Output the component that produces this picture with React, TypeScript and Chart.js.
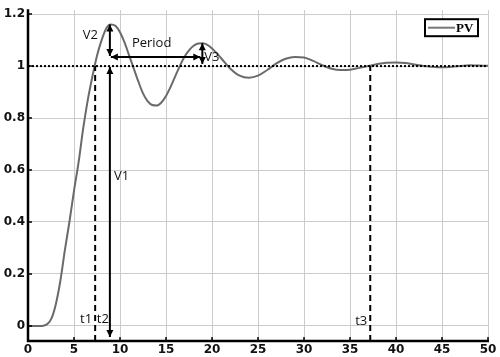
import React, { useEffect, useRef } from "react";
import { Chart, registerables } from "chart.js";

Chart.register(...registerables);

// Step response samples
const timeValues = [
  0, 1, 1.5, 2, 2.5, 3, 3.5, 4, 4.5, 5, 5.5, 6, 6.5, 7, 7.5, 8, 8.5, 9, 9.5, 10,
  10.5, 11, 11.5, 12, 12.5, 13, 13.5, 14, 14.5, 15, 15.5, 16, 16.5, 17, 17.5, 18,
  18.5, 19, 19.5, 20, 21, 22, 23, 24, 25, 26, 27, 28, 29, 30, 31, 32, 33, 34, 35,
  36, 37, 38, 39, 40, 41, 42, 43, 44, 45, 46, 47, 48, 49, 50,
];
const pvValues = [
  0, 0, 0, 0.005, 0.025, 0.08, 0.17, 0.29, 0.4, 0.52, 0.63, 0.76, 0.87, 0.96, 1.04,
  1.1, 1.145, 1.16, 1.155, 1.13, 1.09, 1.04, 0.99, 0.94, 0.895, 0.865, 0.85, 0.848,
  0.86, 0.885, 0.92, 0.96, 1.0, 1.035, 1.06, 1.078, 1.087, 1.088, 1.082, 1.068,
  1.03, 0.99, 0.963, 0.955, 0.963, 0.985, 1.01, 1.028, 1.035, 1.033, 1.02, 1.003,
  0.99, 0.985, 0.986, 0.993, 1.0, 1.008, 1.013, 1.014, 1.012, 1.006, 1.0, 0.997,
  0.995, 0.997, 1.0, 1.003, 1.002, 1.001,
];
const yTickValues = [0, 0.2, 0.4, 0.6, 0.8, 1, 1.2];
const xTickStep = 5;
const setpoint = 1;

// Annotation values
const t1 = 7.3;
const t2 = 8.9;
const t3 = 37.2;
const peak1 = 1.16;
const peak2Time = 18.95;
const peak2 = 1.088;
const periodLevel = 1.035;
const seriesName = "PV";

function arrowHead(ctx: CanvasRenderingContext2D, x: number, y: number, dx: number, dy: number) {
  const len = Math.hypot(dx, dy) || 1;
  const ux = dx / len;
  const uy = dy / len;
  const L = 7;
  const W = 3.5;
  ctx.beginPath();
  ctx.moveTo(x, y);
  ctx.lineTo(x - ux * L - uy * W, y - uy * L + ux * W);
  ctx.lineTo(x - ux * L + uy * W, y - uy * L - ux * W);
  ctx.closePath();
  ctx.fill();
}

function doubleArrow(ctx: CanvasRenderingContext2D, x1: number, y1: number, x2: number, y2: number) {
  ctx.beginPath();
  ctx.moveTo(x1, y1);
  ctx.lineTo(x2, y2);
  ctx.stroke();
  arrowHead(ctx, x2, y2, x2 - x1, y2 - y1);
  arrowHead(ctx, x1, y1, x1 - x2, y1 - y2);
}

const annotationPlugin = {
  id: "annotations",
  afterDatasetsDraw(chart: any) {
    const ctx: CanvasRenderingContext2D = chart.ctx;
    const xs = chart.scales.x;
    const ys = chart.scales.y;
    const area = chart.chartArea;
    const X = (v: number) => xs.getPixelForValue(v);
    const Y = (v: number) => ys.getPixelForValue(v);
    ctx.save();
    ctx.strokeStyle = "#000";
    ctx.fillStyle = "#000";

    // setpoint dotted line
    ctx.lineWidth = 2;
    ctx.setLineDash([2, 2]);
    ctx.beginPath();
    ctx.moveTo(area.left, Y(setpoint));
    ctx.lineTo(area.right, Y(setpoint));
    ctx.stroke();

    // dashed t1, t3
    ctx.setLineDash([6, 4]);
    for (const t of [t1, t3]) {
      ctx.beginPath();
      ctx.moveTo(X(t), area.bottom);
      ctx.lineTo(X(t), Y(setpoint));
      ctx.stroke();
    }
    ctx.setLineDash([]);

    // V1, V2, Period, V3 arrows
    ctx.lineWidth = 2;
    doubleArrow(ctx, X(t2), area.bottom - 4, X(t2), Y(setpoint) + 1);
    doubleArrow(ctx, X(t2), Y(peak1), X(t2), Y(periodLevel) - 1);
    doubleArrow(ctx, X(t2) + 1, Y(periodLevel), X(peak2Time) - 2, Y(periodLevel));
    doubleArrow(ctx, X(peak2Time), Y(peak2), X(peak2Time), Y(setpoint) - 2);

    // text labels
    ctx.font = "13px 'Open Sans', 'DejaVu Sans', sans-serif";
    ctx.fillStyle = "#111";
    ctx.textBaseline = "middle";
    ctx.textAlign = "right";
    ctx.fillText("V2", X(t2) - 12, Y(1.12));
    ctx.fillText("t1", X(t1) - 3, Y(0.025));
    ctx.fillText("t2", X(t2) - 1, Y(0.025));
    ctx.fillText("t3", X(t3) - 3, Y(0.018));
    ctx.textAlign = "left";
    ctx.fillText("Period", X(t2) + 22, Y(1.088));
    ctx.fillText("V1", X(t2) + 4, Y(0.577));
    ctx.fillText("V3", X(peak2Time) + 2, Y(periodLevel));

    // legend box
    const bx = area.right - 63;
    const by = area.top + 9;
    const bw = 53;
    const bh = 17;
    ctx.fillStyle = "#fff";
    ctx.fillRect(bx, by, bw, bh);
    ctx.lineWidth = 2;
    ctx.strokeStyle = "#000";
    ctx.strokeRect(bx, by, bw, bh);
    ctx.strokeStyle = "#777";
    ctx.beginPath();
    ctx.moveTo(bx + 3, by + bh / 2);
    ctx.lineTo(bx + 30, by + bh / 2);
    ctx.stroke();
    ctx.fillStyle = "#000";
    ctx.font = "bold 13px 'Liberation Serif', serif";
    ctx.textAlign = "left";
    ctx.fillText(seriesName, bx + 31, by + bh / 2 + 1);

    // axes lines and inner ticks
    ctx.strokeStyle = "#000";
    ctx.lineWidth = 2.5;
    ctx.beginPath();
    ctx.moveTo(area.left, area.top - 1);
    ctx.lineTo(area.left, area.bottom);
    ctx.lineTo(area.right + 1, area.bottom);
    ctx.stroke();
    ctx.lineWidth = 1.5;
    ctx.beginPath();
    for (const v of yTickValues) {
      ctx.moveTo(area.left, Y(v));
      ctx.lineTo(area.left + 4, Y(v));
    }
    for (let v = 0; v <= 50; v += xTickStep) {
      ctx.moveTo(X(v), area.bottom);
      ctx.lineTo(X(v), area.bottom - 4);
    }
    ctx.stroke();
    ctx.restore();
  },
};

export default function App() {
  const ref = useRef<HTMLCanvasElement | null>(null);
  useEffect(() => {
    if (!ref.current) return;
    const chart = new Chart(ref.current, {
      type: "line",
      data: {
        datasets: [
          {
            label: seriesName,
            data: timeValues.map((x, i) => ({ x, y: pvValues[i] })),
            borderColor: "#6a6a6a",
            borderWidth: 2,
            pointRadius: 0,
            cubicInterpolationMode: "monotone",
            fill: false,
          },
        ],
      },
      options: {
        responsive: false,
        animation: false,
        layout: { padding: { top: 10, right: 12, left: 0, bottom: 0 } },
        plugins: { legend: { display: false }, tooltip: { enabled: false } },
        scales: {
          x: {
            type: "linear",
            min: 0,
            max: 50,
            border: { display: false },
            grid: { color: "#cccccc", lineWidth: 1, drawTicks: false },
            ticks: {
              stepSize: xTickStep,
              padding: 2,
              color: "#111",
              font: { family: "'DejaVu Sans', sans-serif", size: 12, weight: "bold" },
            },
            afterFit: (s: any) => {
              s.height = 16;
            },
          },
          y: {
            type: "linear",
            min: -0.058,
            max: 1.215,
            border: { display: false },
            grid: { color: "#cccccc", lineWidth: 1, drawTicks: false },
            afterBuildTicks: (s: any) => {
              s.ticks = yTickValues.map((v) => ({ value: v }));
            },
            ticks: {
              padding: 3,
              color: "#111",
              font: { family: "'DejaVu Sans', sans-serif", size: 12, weight: "bold" },
              callback: (v: any) => String(Math.round(Number(v) * 10) / 10),
            },
            afterFit: (s: any) => {
              s.width = 28;
            },
          },
        },
      } as any,
      plugins: [annotationPlugin],
    });
    return () => chart.destroy();
  }, []);
  return (
    <div style={{ position: "fixed", left: 0, top: 0, width: 500, height: 357, background: "#fff" }}>
      <canvas ref={ref} width={500} height={357} style={{ width: 500, height: 357 }} />
    </div>
  );
}
